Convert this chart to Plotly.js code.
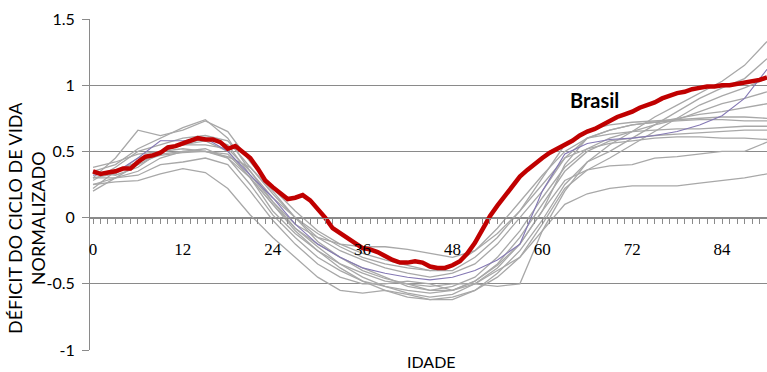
<!DOCTYPE html>
<html><head><meta charset="utf-8">
<script src="https://cdn.plot.ly/plotly-3.0.1.min.js"></script>
<style>html,body{margin:0;padding:0;background:#fff}#chart{width:767px;height:372px}</style>
</head><body><div id="chart"></div>
<script>
const agesBrasil = [0,1,2,3,4,5,6,7,8,9,10,11,12,13,14,15,16,17,18,19,20,21,22,23,24,25,26,27,28,29,30,31,32,33,34,35,36,37,38,39,40,41,42,43,44,45,46,47,48,49,50,51,52,53,54,55,56,57,58,59,60,61,62,63,64,65,66,67,68,69,70,71,72,73,74,75,76,77,78,79,80,81,82,83,84,85,86,87,88,89,90];
const brasil = [0.35,0.33,0.34,0.35,0.37,0.37,0.42,0.46,0.47,0.49,0.53,0.54,0.56,0.58,0.60,0.59,0.59,0.57,0.52,0.54,0.50,0.45,0.37,0.28,0.23,0.18,0.14,0.15,0.17,0.13,0.07,0.00,-0.08,-0.12,-0.15,-0.20,-0.23,-0.24,-0.26,-0.29,-0.32,-0.34,-0.34,-0.33,-0.34,-0.37,-0.38,-0.38,-0.36,-0.33,-0.27,-0.19,-0.09,0.01,0.09,0.16,0.23,0.31,0.36,0.41,0.45,0.49,0.52,0.55,0.58,0.62,0.65,0.67,0.70,0.73,0.76,0.78,0.80,0.83,0.85,0.87,0.90,0.92,0.94,0.95,0.97,0.98,0.99,0.99,1.00,1.00,1.01,1.02,1.03,1.04,1.06];

const agesPaises = [0,3,6,9,12,15,18,21,24,27,30,33,36,39,42,45,48,51,54,57,60,63,66,69,72,75,78,81,84,87,90];
const pais1  = [0.30,0.45,0.66,0.62,0.66,0.73,0.65,0.42,0.22,0.05,-0.10,-0.20,-0.27,-0.32,-0.36,-0.40,-0.40,-0.30,-0.15,0.05,0.30,0.55,0.66,0.70,0.72,0.73,0.74,0.75,0.76,0.76,0.75];
const pais2  = [0.35,0.40,0.52,0.60,0.68,0.74,0.60,0.35,0.15,0.00,-0.15,-0.25,-0.32,-0.38,-0.42,-0.45,-0.42,-0.35,-0.20,0.00,0.20,0.45,0.60,0.63,0.65,0.66,0.67,0.67,0.68,0.69,0.69];
const pais3  = [0.25,0.27,0.28,0.33,0.37,0.34,0.22,0.02,-0.15,-0.30,-0.45,-0.55,-0.57,-0.55,-0.58,-0.62,-0.60,-0.55,-0.45,-0.30,-0.10,0.10,0.18,0.22,0.24,0.24,0.24,0.26,0.28,0.30,0.33];
const pais4  = [0.20,0.30,0.40,0.48,0.50,0.52,0.45,0.30,0.10,-0.08,-0.22,-0.35,-0.45,-0.52,-0.57,-0.60,-0.58,-0.50,-0.38,-0.20,0.05,0.28,0.36,0.39,0.40,0.45,0.46,0.48,0.50,0.50,0.57];
const pais5  = [0.30,0.33,0.45,0.50,0.55,0.60,0.55,0.32,0.12,-0.05,-0.15,-0.20,-0.22,-0.22,-0.24,-0.27,-0.30,-0.25,-0.12,0.05,0.25,0.45,0.52,0.56,0.58,0.60,0.61,0.61,0.60,0.60,0.59];
const pais6  = [0.22,0.35,0.42,0.50,0.55,0.58,0.50,0.30,0.05,-0.12,-0.25,-0.35,-0.42,-0.48,-0.50,-0.52,-0.50,-0.50,-0.52,-0.50,-0.10,0.20,0.42,0.55,0.65,0.76,0.85,0.94,1.03,1.15,1.33];
const pais8  = [0.28,0.38,0.50,0.55,0.60,0.62,0.58,0.38,0.18,0.00,-0.12,-0.22,-0.30,-0.35,-0.38,-0.40,-0.36,-0.25,-0.08,0.12,0.32,0.50,0.60,0.66,0.70,0.72,0.75,0.78,0.80,0.83,0.86];
const pais9  = [0.35,0.32,0.38,0.50,0.55,0.55,0.52,0.35,0.12,-0.08,-0.20,-0.30,-0.38,-0.45,-0.52,-0.55,-0.52,-0.45,-0.30,-0.10,0.15,0.38,0.52,0.60,0.65,0.70,0.74,0.80,0.86,0.90,0.95];
const pais10 = [0.30,0.30,0.35,0.45,0.50,0.50,0.45,0.25,0.02,-0.15,-0.30,-0.40,-0.48,-0.55,-0.60,-0.62,-0.62,-0.55,-0.42,-0.25,-0.02,0.25,0.42,0.50,0.60,0.70,0.80,0.90,0.98,1.05,1.20];
const pais11 = [0.38,0.42,0.48,0.50,0.52,0.50,0.46,0.38,0.20,0.00,-0.18,-0.30,-0.40,-0.46,-0.50,-0.55,-0.55,-0.48,-0.35,-0.15,0.10,0.35,0.50,0.58,0.60,0.62,0.63,0.64,0.65,0.66,0.66];
const pais12 = [0.33,0.35,0.42,0.47,0.49,0.50,0.48,0.30,0.10,-0.10,-0.25,-0.38,-0.48,-0.52,-0.55,-0.57,-0.55,-0.48,-0.36,-0.20,0.05,0.40,0.60,0.66,0.70,0.72,0.73,0.74,0.74,0.73,0.73];
const pais13 = [0.25,0.30,0.32,0.40,0.42,0.45,0.40,0.20,-0.02,-0.20,-0.35,-0.45,-0.50,-0.50,-0.48,-0.50,-0.55,-0.50,-0.40,-0.30,-0.05,0.22,0.36,0.45,0.55,0.65,0.75,0.85,0.92,0.98,1.05];
const paisRoxo = [0.32,0.34,0.45,0.58,0.58,0.60,0.50,0.32,0.15,-0.05,-0.20,-0.30,-0.38,-0.42,-0.45,-0.47,-0.45,-0.40,-0.32,-0.20,0.20,0.48,0.56,0.59,0.60,0.62,0.65,0.70,0.77,0.90,1.12];

const cinzas = [pais1,pais2,pais3,pais4,pais5,pais6,pais8,pais9,pais10,pais11,pais12,pais13];
const xTicks = [0,12,24,36,48,60,72,84];
const yTicks = [-1,-0.5,0,0.5,1,1.5];
const yTickText = ['-1','-0.5','0','0.5','1','1.5'];

const traces = [];
cinzas.forEach(v => traces.push({x: agesPaises, y: v, type:'scatter', mode:'lines',
  line:{color:'#a8a8a8', width:1.3}, hoverinfo:'skip', showlegend:false}));
traces.push({x: agesPaises, y: paisRoxo, type:'scatter', mode:'lines',
  line:{color:'#8478b4', width:1.1}, hoverinfo:'skip', showlegend:false});
traces.push({x: agesBrasil, y: brasil, type:'scatter', mode:'lines', name:'Brasil',
  line:{color:'#c00000', width:4.5}, hoverinfo:'skip', showlegend:false});

const sans = 'Lato, "Open Sans", sans-serif';
const layout = {
  width:767, height:372,
  margin:{l:90, r:0, t:19, b:22},
  paper_bgcolor:'#fff', plot_bgcolor:'#fff',
  showlegend:false,
  xaxis:{
    range:[-0.4, 90], anchor:'free', position:0.4,
    tickmode:'array', tickvals:xTicks, ticktext:xTicks.map(String),
    ticks:'outside', ticklen:5, tickcolor:'#8a8a8a', tickwidth:1,
    minor:{dtick:1, tick0:0, ticks:'outside', ticklen:5, tickcolor:'#8a8a8a', showgrid:false},
    showline:true, linecolor:'#8a8a8a', linewidth:1,
    showgrid:false, zeroline:false,
    tickfont:{family:'"Liberation Serif", serif', size:17, color:'#000'},
    ticklabelstandoff:11
  },
  yaxis:{
    range:[-1, 1.5], tickmode:'array', tickvals:yTicks, ticktext:yTickText,
    ticks:'outside', ticklen:7, tickcolor:'#8a8a8a',
    showline:true, linecolor:'#8a8a8a', linewidth:1,
    showgrid:true, gridcolor:'#8a8a8a', gridwidth:1, zeroline:false,
    tickfont:{family:sans, size:16, color:'#000'},
    ticklabelstandoff:4
  },
  annotations:[
    {xref:'paper', yref:'paper', x:-0.094, y:0.40, xanchor:'center', yanchor:'middle',
     text:'DÉFICIT DO CICLO DE VIDA<br>NORMALIZADO',
     textangle:-90, showarrow:false, font:{family:sans, size:18, color:'#000'}, align:'center'},
    {xref:'paper', yref:'paper', x:0.505, y:-0.036, xanchor:'center', yanchor:'middle',
     text:'IDADE', showarrow:false,
     font:{family:sans, size:16, color:'#000'}},
    {xref:'x', yref:'y', x:67, y:0.89, xanchor:'center', yanchor:'middle',
     text:'<b>Brasil</b>', showarrow:false,
     font:{family:sans, size:20, color:'#000'}}
  ]
};
Plotly.newPlot('chart', traces, layout, {staticPlot:true, displayModeBar:false});
</script></body></html>
